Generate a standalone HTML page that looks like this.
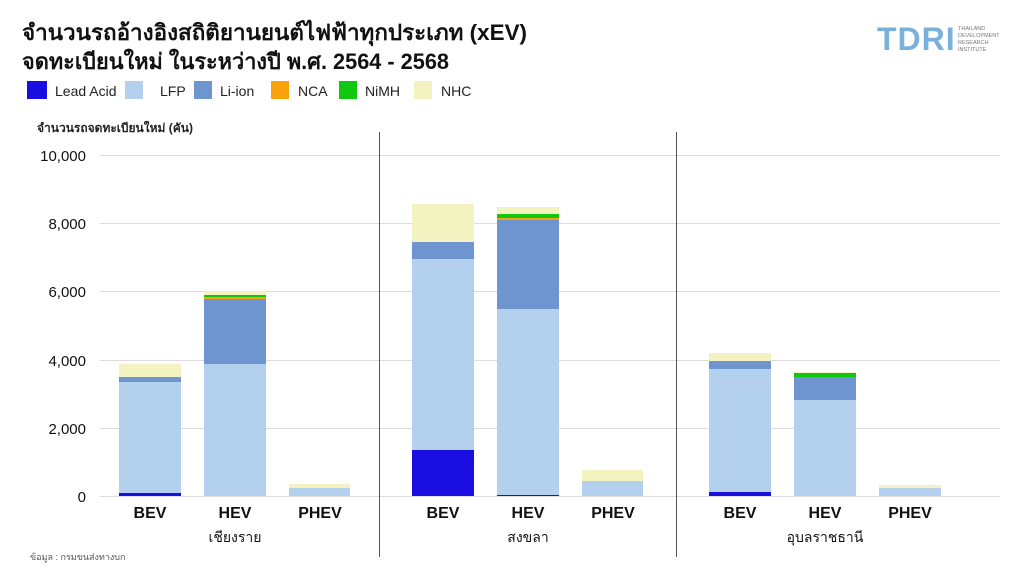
<!DOCTYPE html>
<html><head><meta charset="utf-8"><style>
body{margin:0;width:1024px;height:576px;background:#fff;overflow:hidden;font-family:"Liberation Sans","Noto Sans CJK SC",sans-serif;}
</style></head><body>
<svg width="1024" height="576" xmlns="http://www.w3.org/2000/svg" font-family="Liberation Sans, Noto Sans CJK SC, sans-serif">
<text x="22" y="40" font-size="22" font-weight="bold" fill="#111" textLength="505" lengthAdjust="spacingAndGlyphs">จำนวนรถอ้างอิงสถิติยานยนต์ไฟฟ้าทุกประเภท (xEV)</text>
<text x="22" y="69" font-size="22" font-weight="bold" fill="#111" textLength="427" lengthAdjust="spacingAndGlyphs">จดทะเบียนใหม่ ในระหว่างปี พ.ศ. 2564 - 2568</text>
<g font-size="14" fill="#222">
<rect x="27" y="81" width="20" height="18" fill="#1a0fe0"/><text x="55" y="96">Lead Acid</text>
<rect x="125" y="81" width="18" height="18" fill="#b3d1ef"/><text x="160" y="96">LFP</text>
<rect x="194" y="81" width="18" height="18" fill="#6e95cf"/><text x="220" y="96">Li-ion</text>
<rect x="271" y="81" width="18" height="18" fill="#f8a20c"/><text x="298" y="96">NCA</text>
<rect x="339" y="81" width="18" height="18" fill="#10c810"/><text x="365" y="96">NiMH</text>
<rect x="414" y="81" width="18" height="18" fill="#f3f3c2"/><text x="441" y="96">NHC</text>
</g>
<text x="37" y="132" font-size="12" font-weight="bold" fill="#222">จำนวนรถจดทะเบียนใหม่ (คัน)</text>
<text x="877" y="50" font-size="32" font-weight="bold" fill="#7ab0da" letter-spacing="1">TDRI</text>
<g font-size="5.5" fill="#777"><text x="958" y="30">THAILAND</text><text x="958" y="37">DEVELOPMENT</text><text x="958" y="44">RESEARCH</text><text x="958" y="51">INSTITUTE</text></g>
<g stroke="#dcdcdc" stroke-width="1">
<line x1="100" y1="155.5" x2="1000" y2="155.5"/><line x1="100" y1="223.5" x2="1000" y2="223.5"/><line x1="100" y1="291.5" x2="1000" y2="291.5"/><line x1="100" y1="360.5" x2="1000" y2="360.5"/><line x1="100" y1="428.5" x2="1000" y2="428.5"/><line x1="100" y1="496.5" x2="1000" y2="496.5"/>
</g>
<g font-size="15" fill="#111" text-anchor="end">
<text x="86" y="161">10,000</text><text x="86" y="229">8,000</text><text x="86" y="297">6,000</text><text x="86" y="366">4,000</text><text x="86" y="434">2,000</text><text x="86" y="502">0</text>
</g>
<line x1="379.5" y1="132" x2="379.5" y2="557" stroke="#555"/>
<line x1="676.5" y1="132" x2="676.5" y2="557" stroke="#555"/>
<g>
<rect x="119" y="364" width="62" height="13" fill="#f3f3c2"/><rect x="119" y="377" width="62" height="5" fill="#6e95cf"/><rect x="119" y="382" width="62" height="111" fill="#b3d1ef"/><rect x="119" y="493" width="62" height="3" fill="#1a0fe0"/>
<rect x="204" y="291" width="62" height="4" fill="#f3f3c2"/><rect x="204" y="295" width="62" height="2" fill="#10c810"/><rect x="204" y="297" width="62" height="2" fill="#f8a20c"/><rect x="204" y="299" width="62" height="65" fill="#6e95cf"/><rect x="204" y="364" width="62" height="132" fill="#b3d1ef"/>
<rect x="289" y="484" width="61" height="4" fill="#f3f3c2"/><rect x="289" y="488" width="61" height="8" fill="#b3d1ef"/>
<rect x="412" y="204" width="62" height="38" fill="#f3f3c2"/><rect x="412" y="242" width="62" height="17" fill="#6e95cf"/><rect x="412" y="259" width="62" height="191" fill="#b3d1ef"/><rect x="412" y="450" width="62" height="46" fill="#1a0fe0"/>
<rect x="497" y="207" width="62" height="7" fill="#f3f3c2"/><rect x="497" y="214" width="62" height="4" fill="#10c810"/><rect x="497" y="218" width="62" height="2" fill="#f8a20c"/><rect x="497" y="220" width="62" height="89" fill="#6e95cf"/><rect x="497" y="309" width="62" height="186" fill="#b3d1ef"/><rect x="497" y="495" width="62" height="1" fill="#1a0fe0"/>
<rect x="582" y="470" width="61" height="11" fill="#f3f3c2"/><rect x="582" y="481" width="61" height="15" fill="#b3d1ef"/>
<rect x="709" y="353" width="62" height="8" fill="#f3f3c2"/><rect x="709" y="361" width="62" height="8" fill="#6e95cf"/><rect x="709" y="369" width="62" height="123" fill="#b3d1ef"/><rect x="709" y="492" width="62" height="4" fill="#1a0fe0"/>
<rect x="794" y="372" width="62" height="1" fill="#f3f3c2"/><rect x="794" y="373" width="62" height="4" fill="#10c810"/><rect x="794" y="377" width="62" height="23" fill="#6e95cf"/><rect x="794" y="400" width="62" height="96" fill="#b3d1ef"/>
<rect x="879" y="485" width="62" height="3" fill="#f3f3c2"/><rect x="879" y="488" width="62" height="8" fill="#b3d1ef"/>
</g>
<g font-size="16" font-weight="bold" fill="#111" text-anchor="middle">
<text x="150" y="518">BEV</text><text x="235" y="518">HEV</text><text x="320" y="518">PHEV</text>
<text x="443" y="518">BEV</text><text x="528" y="518">HEV</text><text x="613" y="518">PHEV</text>
<text x="740" y="518">BEV</text><text x="825" y="518">HEV</text><text x="910" y="518">PHEV</text>
</g>
<g font-size="14" fill="#111" text-anchor="middle">
<text x="235" y="542">เชียงราย</text><text x="528" y="542">สงขลา</text><text x="825" y="542">อุบลราชธานี</text>
</g>
<text x="30" y="560" font-size="9" fill="#555">ข้อมูล : กรมขนส่งทางบก</text>
</svg>
</body></html>
